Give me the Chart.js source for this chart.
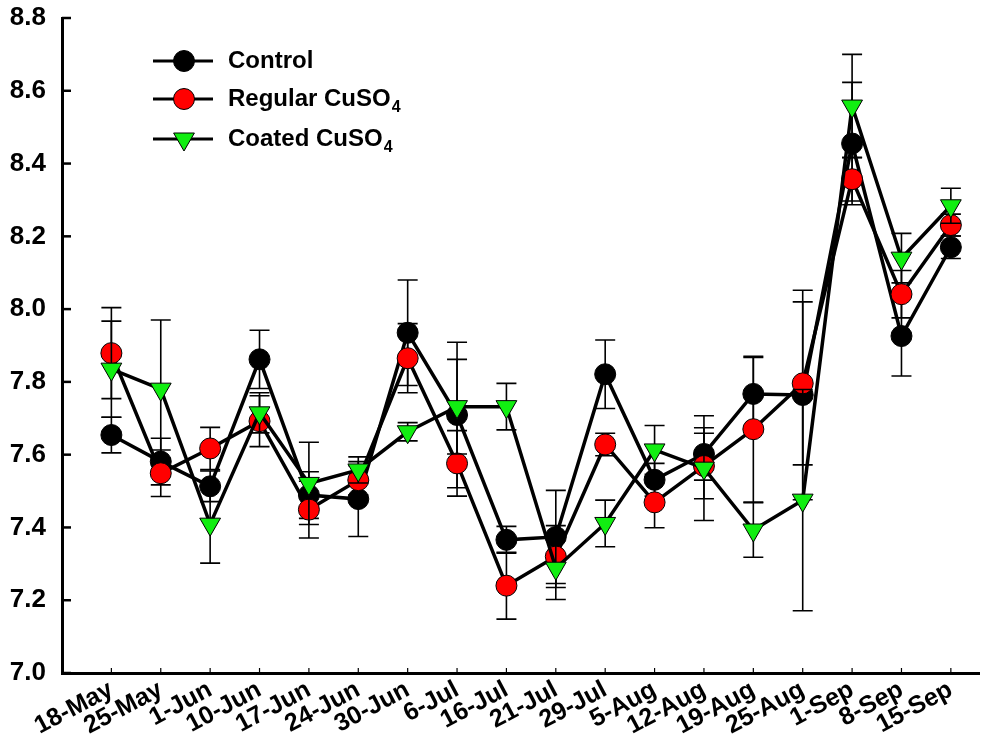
<!DOCTYPE html>
<html><head><meta charset="utf-8">
<script src="https://cdn.jsdelivr.net/npm/chart.js@4.4.0/dist/chart.umd.min.js"></script>
<style>html,body{margin:0;padding:0;background:#fff;}#wrap{width:992px;height:738px;}</style>
</head><body><div id="wrap"><canvas id="c" width="992" height="738"></canvas></div>
<script>
const dates = ['18-May','25-May','1-Jun','10-Jun','17-Jun','24-Jun','30-Jun','6-Jul','16-Jul','21-Jul','29-Jul','5-Aug','12-Aug','19-Aug','25-Aug','1-Sep','8-Sep','15-Sep'];
const control    = [7.654,7.581,7.513,7.862,7.489,7.478,7.935,7.709,7.366,7.374,7.821,7.531,7.602,7.767,7.764,8.455,7.926,8.170];
const controlErr = [0.049,0.064,0.042,0.080,0.064,0.103,0.145,0.200,0.037,0.128,0.094,0.045,0.072,0.100,0.288,0.168,0.110,0.031];
const regular    = [7.879,7.549,7.617,7.692,7.449,7.530,7.865,7.576,7.240,7.320,7.628,7.469,7.569,7.670,7.796,8.357,8.041,8.231];
const regularErr = [0.125,0.064,0.058,0.070,0.078,0.040,0.095,0.090,0.092,0.085,0.031,0.070,0.090,0.200,0.224,0.060,0.065,0.030];
const coated     = [7.835,7.780,7.409,7.715,7.521,7.558,7.663,7.732,7.732,7.288,7.411,7.613,7.563,7.393,7.475,8.558,8.140,8.284];
const coatedErr  = [0.132,0.190,0.107,0.055,0.113,0.036,0.025,0.130,0.064,0.086,0.064,0.067,0.144,0.075,0.304,0.142,0.068,0.048];
const yTicks = [7.0,7.2,7.4,7.6,7.8,8.0,8.2,8.4,8.6,8.8];

const FONT = "'Liberation Sans', Arial, sans-serif";
const GREEN = '#11ee11', RED = '#ff0000';
const errs = [controlErr, regularErr, coatedErr];

function pts(arr){ return arr.map((v,i)=>({x:i,y:v})); }

const errorBars = {
  id:'errorBars',
  beforeDatasetDraw(chart, args){
    const ys = chart.scales.y, ctx = chart.ctx;
    const e = errs[args.index]; const ds = chart.data.datasets[args.index];
    ctx.save(); ctx.strokeStyle='#000'; ctx.lineWidth=1.6;
    args.meta.data.forEach((p,i)=>{
      const v = ds.data[i].y, hi = ys.getPixelForValue(v+e[i]), lo = ys.getPixelForValue(v-e[i]);
      ctx.beginPath();
      ctx.moveTo(p.x,hi); ctx.lineTo(p.x,lo);
      ctx.moveTo(p.x-10,hi); ctx.lineTo(p.x+10,hi);
      ctx.moveTo(p.x-10,lo); ctx.lineTo(p.x+10,lo);
      ctx.stroke();
    });
    ctx.restore();
  }
};

function drawMarker(ctx, kind, x, y){
  ctx.save(); ctx.lineWidth=1; ctx.strokeStyle='#000';
  ctx.beginPath();
  if(kind==='tri'){
    const r=12;
    ctx.moveTo(x, y+r); ctx.lineTo(x - r*Math.sin(Math.PI/3), y - r/2); ctx.lineTo(x + r*Math.sin(Math.PI/3), y - r/2); ctx.closePath();
    ctx.fillStyle=GREEN;
  } else {
    ctx.arc(x,y,10.5,0,Math.PI*2);
    ctx.fillStyle = kind==='red'?RED:'#000';
  }
  ctx.fill(); ctx.stroke(); ctx.restore();
}

const decor = {
  id:'decor',
  afterDraw(chart){
    const ctx = chart.ctx, xs = chart.scales.x, ys = chart.scales.y, a = chart.chartArea;
    ctx.save(); ctx.strokeStyle='#000';
    ctx.lineWidth=2.5;
    yTicks.forEach(t=>{ const y=ys.getPixelForValue(t); ctx.beginPath(); ctx.moveTo(a.left,y); ctx.lineTo(a.left+9,y); ctx.stroke(); });
    ctx.lineWidth=1.2;
    dates.forEach((d,i)=>{ const x=xs.getPixelForValue(i); ctx.beginPath(); ctx.moveTo(x,a.bottom); ctx.lineTo(x,a.bottom-5); ctx.stroke(); });
    // legend
    const rows = [{t:'Control',k:'black',sub:''},{t:'Regular CuSO',k:'red',sub:'4'},{t:'Coated CuSO',k:'tri',sub:'4'}];
    const ry = [61, 99, 139];
    rows.forEach((r,j)=>{
      const y = ry[j];
      ctx.lineWidth=3; ctx.beginPath(); ctx.moveTo(153,y); ctx.lineTo(213,y); ctx.stroke();
      drawMarker(ctx, r.k, 184, y);
      ctx.fillStyle='#000'; ctx.textBaseline='middle'; ctx.textAlign='left';
      ctx.font = 'bold 24px '+FONT;
      ctx.fillText(r.t, 228, y);
      if(r.sub){ const w = ctx.measureText(r.t).width; ctx.font='bold 16px '+FONT; ctx.fillText(r.sub, 228+w+1, y+9); }
    });
    ctx.restore();
  }
};

function ds(label, data, kind, order){
  return {
    label, data: pts(data), order,
    borderColor:'#000', borderWidth:3.5, tension:0,
    pointStyle: kind==='tri'?'triangle':'circle',
    pointRotation: kind==='tri'?180:0,
    pointRadius: kind==='tri'?12:10.5,
    pointBackgroundColor: kind==='tri'?GREEN:(kind==='red'?RED:'#000'),
    pointBorderColor:'#000', pointBorderWidth:1,
    clip:false
  };
}

new Chart(document.getElementById('c'), {
  type:'line',
  data:{ datasets:[ ds('Control', control, 'black', 3), ds('Regular CuSO₄', regular, 'red', 2), ds('Coated CuSO₄', coated, 'tri', 1) ] },
  options:{
    responsive:false, animation:false, devicePixelRatio:1,
    layout:{ padding:{ top:18, right:0, left:0, bottom:0 } },
    plugins:{ legend:{display:false}, tooltip:{enabled:false} },
    scales:{
      x:{ type:'linear', min:-1, max:17.57,
        grid:{display:false}, border:{display:true, color:'#000', width:3},
        afterBuildTicks(s){ s.ticks = dates.map((d,i)=>({value:i})); },
        afterFit(s){ s.height = 65; },
        ticks:{ autoSkip:false, minRotation:28, maxRotation:28, padding:-6, color:'#000',
          font:{ family:FONT, size:25, weight:'bold' }, callback:(v)=>dates[v] ?? '' } },
      y:{ type:'linear', min:7.0, max:8.8,
        grid:{display:false}, border:{display:true, color:'#000', width:3},
        afterBuildTicks(s){ s.ticks = yTicks.map(v=>({value:v})); },
        afterFit(s){ s.width = 62; s.paddingTop = 0; s.paddingBottom = 0; },
        ticks:{ padding:8, color:'#000', font:{ family:FONT, size:26, weight:'bold' }, callback:(v)=>Number(v).toFixed(1) } }
    }
  },
  plugins:[errorBars, decor]
});
</script></body></html>
